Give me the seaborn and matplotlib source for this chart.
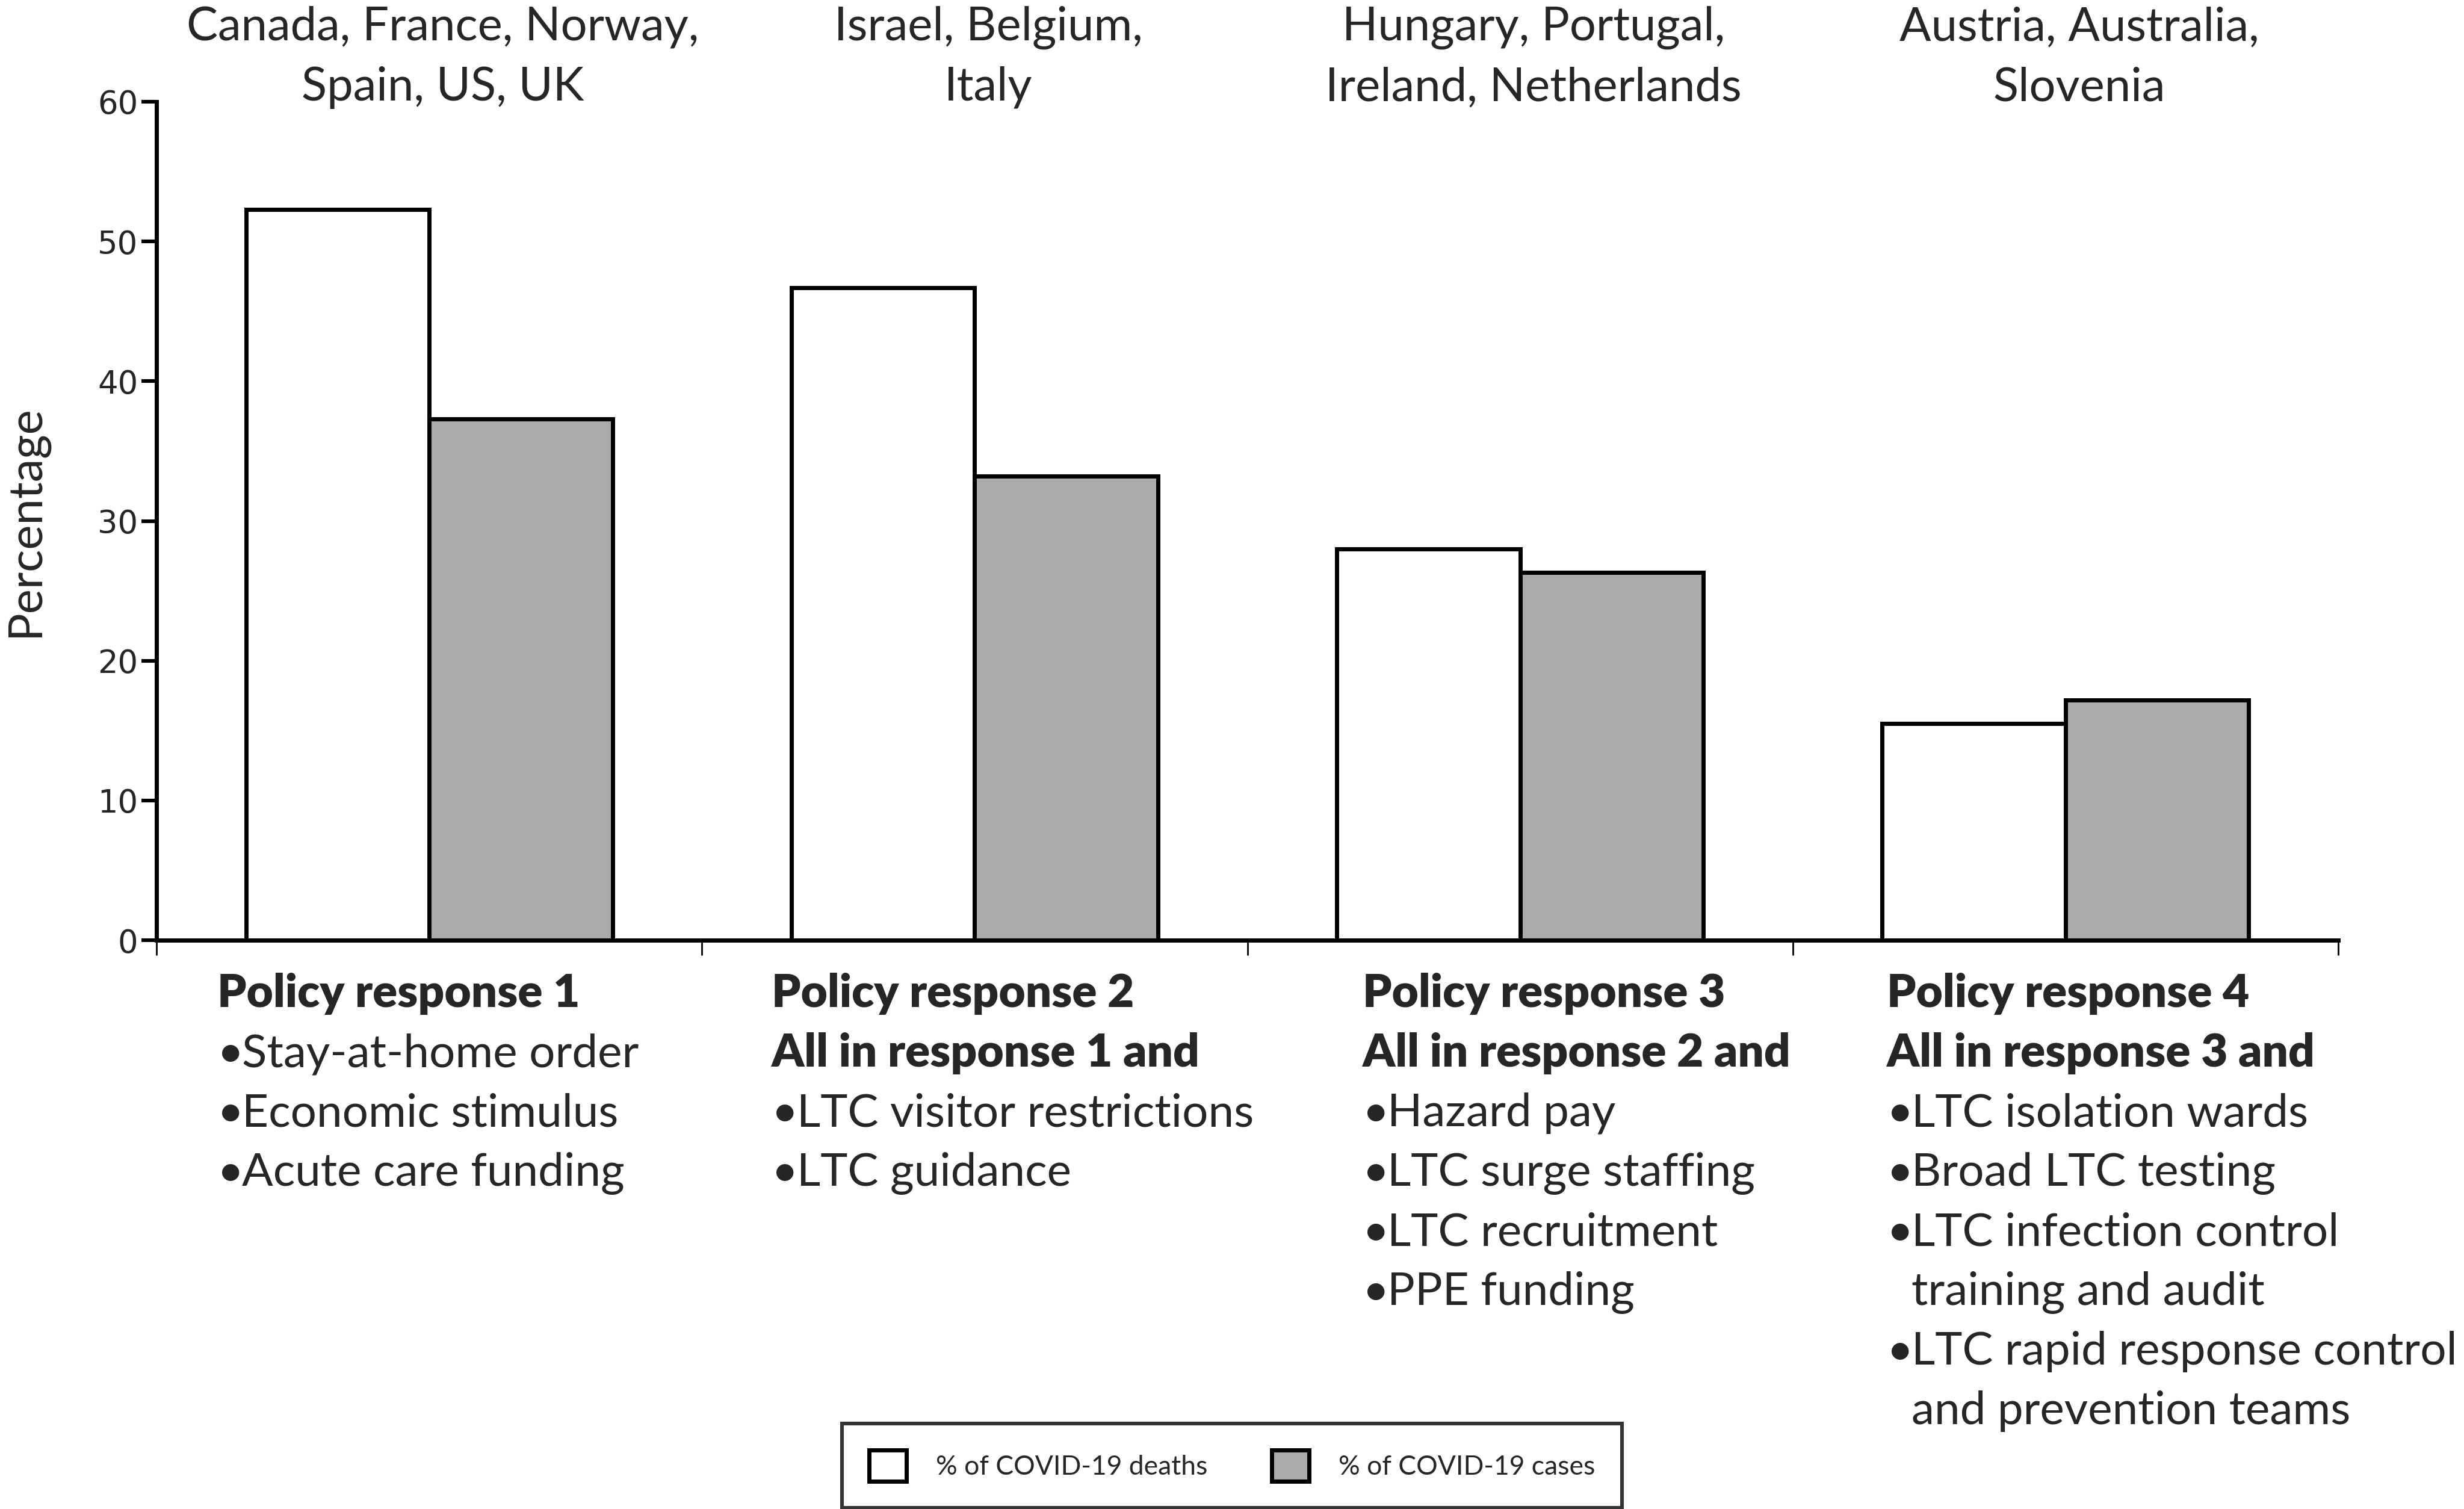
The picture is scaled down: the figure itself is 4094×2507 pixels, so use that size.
import seaborn as sns
import pandas as pd
import matplotlib.pyplot as plt
from matplotlib.patches import Patch
from matplotlib.transforms import blended_transform_factory

# values
groups = ["Policy response 1", "Policy response 2", "Policy response 3", "Policy response 4"]
deaths = [52.3, 46.7, 28.0, 15.5]
cases = [37.3, 33.2, 26.3, 17.2]
measures = ["% of COVID-19 deaths", "% of COVID-19 cases"]

countries = [
    ["Canada, France, Norway,", "Spain, US, UK"],
    ["Israel, Belgium,", "Italy"],
    ["Hungary, Portugal,", "Ireland, Netherlands"],
    ["Austria, Australia,", "Slovenia"],
]
headings = [
    ["Policy response 1"],
    ["Policy response 2", "All in response 1 and"],
    ["Policy response 3", "All in response 2 and"],
    ["Policy response 4", "All in response 3 and"],
]
# each bullet item is a list of wrapped lines
items = [
    [["Stay-at-home order"], ["Economic stimulus"], ["Acute care funding"]],
    [["LTC visitor restrictions"], ["LTC guidance"]],
    [["Hazard pay"], ["LTC surge staffing"], ["LTC recruitment"], ["PPE funding"]],
    [["LTC isolation wards"], ["Broad LTC testing"],
     ["LTC infection control", "training and audit"],
     ["LTC rapid response control", "and prevention teams"]],
]

df = pd.DataFrame({
    "group": groups * 2,
    "measure": [measures[0]] * 4 + [measures[1]] * 4,
    "value": deaths + cases,
})

sns.set_theme(style="white")
plt.rcParams["font.family"] = ["Lato", "DejaVu Sans"]

W, H = 4094, 2507
fig = plt.figure(figsize=(W / 200, H / 200), dpi=200)
ax = fig.add_axes([260 / W, 1 - 1562 / H, (3885 - 260) / W, (1562 - 169) / H])

colors = {measures[0]: "white", measures[1]: "#aaaaaa"}
sns.barplot(data=df, x="group", y="value", hue="measure", order=groups,
            hue_order=measures, palette=colors, width=0.672, gap=0,
            edgecolor="black", linewidth=2.5, saturation=1, legend=False, ax=ax)

ax.set_xlim(-0.5, 3.5)
ax.set_ylim(0, 60)
ax.set_yticks(range(0, 61, 10))
ax.set_yticklabels([str(v) for v in range(0, 61, 10)], family="DejaVu Sans", fontsize=19)
ax.set_xticks([-0.5, 0.5, 1.5, 2.5, 3.5])
ax.set_xticklabels([])
ax.set_xlabel("")
ax.set_ylabel("Percentage", fontsize=28, labelpad=30)
ax.tick_params(axis="y", direction="out", length=9, width=2.2, pad=2, color="black", left=True)
ax.tick_params(axis="x", direction="out", length=9, width=1, color="black", bottom=True)
for side in ["top", "right"]:
    ax.spines[side].set_visible(False)
for side in ["left", "bottom"]:
    ax.spines[side].set_color("black")
    ax.spines[side].set_linewidth(2.5)

tr = blended_transform_factory(ax.transData, fig.transFigure)

# country labels above each group
for i, lines in enumerate(countries):
    for k, line in enumerate(lines):
        fig.text(i + 0.025, 1 - (67 + 100 * k) / H, line, transform=tr,
                 ha="center", va="baseline", fontsize=28)

# policy descriptions below each group
block_x = [-0.389, 0.628, 1.711, 2.672]
step = 99
indent = 0.046
body = 27.5
for i in range(len(groups)):
    y = 1673
    for line in headings[i]:
        fig.text(block_x[i], 1 - y / H, line, transform=tr, ha="left",
                 va="baseline", fontsize=body, fontweight="heavy")
        y += step
    for item in items[i]:
        fig.text(block_x[i], 1 - y / H, "\u2022", transform=tr, ha="left",
                 va="baseline", fontsize=body)
        for line in item:
            fig.text(block_x[i] + indent, 1 - y / H, line, transform=tr,
                     ha="left", va="baseline", fontsize=body)
            y += step

handles = [Patch(facecolor=colors[m], edgecolor="black", linewidth=2.5, label=m)
           for m in measures]
leg = fig.legend(handles=handles, loc="lower center", bbox_to_anchor=(0.5, 2 / H),
                 ncol=2, fontsize=16, frameon=True, fancybox=False,
                 handlelength=1.4, handleheight=1.4, handletextpad=1.1,
                 columnspacing=2.4, borderpad=1.0, borderaxespad=0)
leg.get_frame().set_edgecolor("black")
leg.get_frame().set_linewidth(2.2)

fig.savefig("out.png", dpi=200)
